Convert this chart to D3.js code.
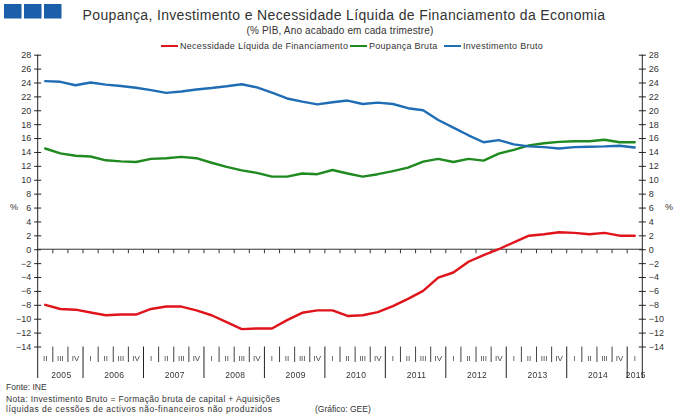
<!DOCTYPE html>
<html>
<head>
<meta charset="utf-8">
<script src="https://cdn.jsdelivr.net/npm/d3@7/dist/d3.min.js"></script>
<style>
  html, body { margin: 0; padding: 0; background: #fff; }
  svg { display: block; font-family: "Liberation Sans", Arial, sans-serif; -webkit-font-smoothing: antialiased; }
</style>
</head>
<body>
<svg id="chart" width="680" height="420"></svg>
<script>
// ---- Data (2005 Q2 .. 2015 Q1) ----
const years = [2005, 2006, 2007, 2008, 2009, 2010, 2011, 2012, 2013, 2014, 2015];
const quarterNames = ["I", "II", "III", "IV"];
const firstQuarter = { year: 2005, q: 1 };   // index into quarterNames (II)
const lastQuarter = { year: 2015, q: 0 };    // I

const necessidade = [-8.0, -8.6, -8.7, -9.1, -9.5, -9.4, -9.4, -8.6, -8.25, -8.25,
  -8.8, -9.5, -10.5, -11.5, -11.4, -11.4, -10.2, -9.15, -8.8, -8.8,
  -9.6, -9.5, -9.05, -8.2, -7.15, -6.0, -4.1, -3.35, -1.8, -0.85,
  0.0, 1.0, 1.95, 2.15, 2.45, 2.35, 2.15, 2.35, 1.95, 1.95];
const poupanca = [14.5, 13.8, 13.45, 13.35, 12.8, 12.65, 12.55, 13.0, 13.1, 13.3,
  13.1, 12.45, 11.85, 11.35, 11.0, 10.45, 10.45, 10.9, 10.8, 11.4,
  10.9, 10.45, 10.8, 11.25, 11.75, 12.6, 13.0, 12.55, 13.0, 12.75,
  13.75, 14.3, 14.95, 15.25, 15.45, 15.55, 15.55, 15.75, 15.4, 15.4];
const investimento = [24.2, 24.1, 23.6, 24.0, 23.7, 23.5, 23.25, 22.9, 22.5, 22.7,
  23.0, 23.2, 23.45, 23.75, 23.3, 22.55, 21.7, 21.25, 20.85, 21.15,
  21.4, 20.9, 21.1, 20.9, 20.3, 20.0, 18.6, 17.5, 16.4, 15.4,
  15.7, 15.1, 14.8, 14.7, 14.5, 14.7, 14.75, 14.8, 14.9, 14.65];

const seriesNames = ["Necessidade Líquida de Financiamento", "Poupança Bruta", "Investimento Bruto"];
const seriesColors = ["#e0141b", "#1f8a1f", "#1f6db4"];
const yTicks = d3.range(-14, 29, 2);

const title = "Poupança, Investimento e Necessidade Líquida de Financiamento da Economia";
const subtitle = "(% PIB, Ano acabado em cada trimestre)";
const footLines = ["Fonte: INE",
  "Nota: Investimento Bruto = Formação bruta de capital + Aquisições",
  "líquidas de cessões de activos não-financeiros não produzidos"];
const credit = "(Gráfico: GEE)";

// ---- categories ----
const cats = [];
years.forEach(yr => {
  quarterNames.forEach((qn, qi) => {
    if (yr === firstQuarter.year && qi < firstQuarter.q) return;
    if (yr === lastQuarter.year && qi > lastQuarter.q) return;
    cats.push({ key: yr + "-" + qn, year: yr, q: qn, qi: qi });
  });
});

const svg = d3.select("#chart");
const defs = svg.append("defs");
const flt = defs.append("filter").attr("id", "gray")
  .attr("x", 0).attr("y", 0).attr("width", 1).attr("height", 1)
  .attr("filterUnits", "userSpaceOnUse");
flt.attr("x", 0).attr("y", 330).attr("width", 680).attr("height", 60);
flt.append("feColorMatrix").attr("type", "saturate").attr("values", 0);

const pLeft = 37.7, pRight = 642.3, pTop = 54.7, pBottom = 346.5;

const x = d3.scaleBand().domain(cats.map(c => c.key)).range([pLeft, pRight]).padding(0);
const y = d3.scaleLinear().domain([-14, 28]).range([pBottom, pTop]);
const bw = x.bandwidth();

// ---- logo ----
const logo = svg.append("g");
[4, 24, 44].forEach(lx => logo.append("rect").attr("x", lx).attr("y", 4)
  .attr("width", 17.5).attr("height", 14.5).attr("fill", "#1b5ea9"));

// ---- titles ----
svg.append("text").attr("x", 344).attr("y", 19.5).attr("text-anchor", "middle")
  .attr("font-size", 14).attr("letter-spacing", 0.35).attr("fill", "#333").text(title);
svg.append("text").attr("x", 340).attr("y", 34).attr("text-anchor", "middle")
  .attr("font-size", 10).attr("letter-spacing", 0.15).attr("fill", "#333").text(subtitle);

// ---- legend ----
const legendX = [161, 350, 444];
const lg = svg.append("g");
seriesNames.forEach((n, i) => {
  lg.append("line").attr("x1", legendX[i]).attr("x2", legendX[i] + 17)
    .attr("y1", 46).attr("y2", 46).attr("stroke", seriesColors[i]).attr("stroke-width", 2);
  lg.append("text").attr("x", legendX[i] + 19).attr("y", 49).attr("font-size", 9)
    .attr("letter-spacing", 0.28).attr("fill", "#333").text(n);
});

// ---- y axes ----
const axL = d3.axisLeft(y).tickValues(yTicks).tickSize(3.5).tickPadding(3).tickFormat(d3.format("d"));
const gL = svg.append("g").attr("transform", `translate(${pLeft},0)`).call(axL);
const axR = d3.axisRight(y).tickValues(yTicks).tickSize(3.5).tickPadding(3).tickFormat(d3.format("d"));
const gR = svg.append("g").attr("transform", `translate(${pRight},0)`).call(axR);
[gL, gR].forEach((g, i) => {
  g.select(".domain").remove();
  g.selectAll(".tick line").attr("stroke", "#222").attr("x1", i === 0 ? 3.5 : -3.5);
  g.selectAll(".tick text").attr("font-size", 9).attr("fill", "#333")
    .attr("font-family", "Liberation Sans, Arial, sans-serif");
});
[pLeft, pRight].forEach(xx => svg.append("line").attr("x1", xx).attr("x2", xx)
  .attr("y1", pTop).attr("y2", 378).attr("stroke", "#222").attr("stroke-width", 1));

svg.append("text").attr("x", 10).attr("y", 210).attr("font-size", 9).attr("fill", "#333").text("%");
svg.append("text").attr("x", 665).attr("y", 210).attr("font-size", 9).attr("fill", "#333").text("%");

// ---- zero line with boundary ticks ----
const y0 = y(0);
svg.append("line").attr("x1", pLeft).attr("x2", pRight).attr("y1", y0).attr("y2", y0)
  .attr("stroke", "#333").attr("stroke-width", 1);
svg.append("g").selectAll("line").data(cats.slice(1)).join("line")
  .attr("x1", d => x(d.key)).attr("x2", d => x(d.key))
  .attr("y1", y0).attr("y2", y0 + 4).attr("stroke", "#333").attr("stroke-width", 1);

// ---- category axis ----
const cg = svg.append("g").attr("filter", "url(#gray)");
cg.selectAll("line.sep").data(cats.slice(1)).join("line").attr("class", "sep")
  .attr("x1", d => x(d.key)).attr("x2", d => x(d.key))
  .attr("y1", pBottom).attr("y2", d => d.qi === 0 ? 378 : 362)
  .attr("stroke", d => d.qi === 0 ? "#222" : "#444").attr("stroke-width", 1);
cg.selectAll("text.q").data(cats).join("text").attr("class", "q")
  .attr("x", d => x(d.key) + bw / 2).attr("y", 361).attr("text-anchor", "middle")
  .attr("font-size", 8).attr("fill", "#444").text(d => d.q);
years.forEach(yr => {
  const cs = cats.filter(c => c.year === yr);
  const x1 = x(cs[0].key), x2 = x(cs[cs.length - 1].key) + bw;
  cg.append("text").attr("x", (x1 + x2) / 2 + 1).attr("y", 378).attr("text-anchor", "middle")
    .attr("font-size", 8.5).attr("letter-spacing", 0.3).attr("fill", "#333").text(yr);
});

// ---- series lines ----
const line = d3.line().x((d, i) => x(cats[i].key) + bw / 2).y(d => y(d));
[necessidade, poupanca, investimento].forEach((s, i) => {
  svg.append("path").datum(s).attr("d", line).attr("fill", "none")
    .attr("stroke", seriesColors[i]).attr("stroke-width", 2.4)
    .attr("stroke-linejoin", "round").attr("stroke-linecap", "round");
});

// ---- footer ----
const fy = [390, 402, 411.5];
const fLen = [null, 274, 266];
footLines.forEach((t, i) => {
  const tx = svg.append("text").attr("x", 6).attr("y", fy[i])
    .attr("font-size", 8.5).attr("fill", "#333").text(t);
  if (fLen[i]) tx.attr("textLength", fLen[i]).attr("lengthAdjust", "spacing");
});
svg.append("text").attr("x", 315).attr("y", 412).attr("font-size", 8.5).attr("fill", "#333").text(credit);
</script>
</body>
</html>
